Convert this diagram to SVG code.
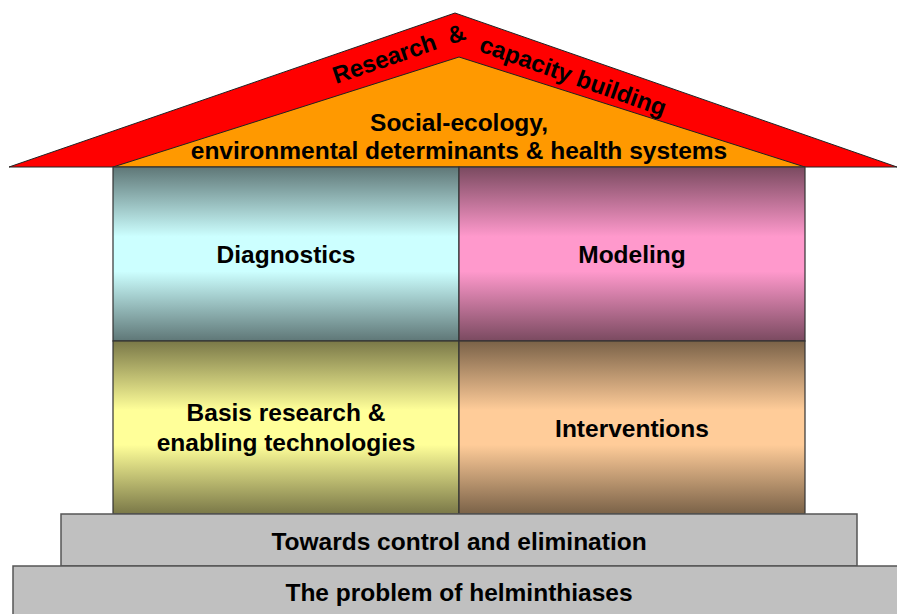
<svg xmlns="http://www.w3.org/2000/svg" width="897" height="614" viewBox="0 0 897 614">
<defs>
<linearGradient id="gDiag" x1="0" y1="0" x2="0" y2="1">
<stop offset="0" stop-color="#5f7777"/><stop offset="0.4" stop-color="#ccffff"/><stop offset="0.6" stop-color="#ccffff"/><stop offset="1" stop-color="#5f7777"/>
</linearGradient>
<linearGradient id="gMod" x1="0" y1="0" x2="0" y2="1">
<stop offset="0" stop-color="#7a4a60"/><stop offset="0.4" stop-color="#ff99cc"/><stop offset="0.6" stop-color="#ff99cc"/><stop offset="1" stop-color="#7a4a60"/>
</linearGradient>
<linearGradient id="gBasis" x1="0" y1="0" x2="0" y2="1">
<stop offset="0" stop-color="#7a7848"/><stop offset="0.4" stop-color="#ffff99"/><stop offset="0.6" stop-color="#ffff99"/><stop offset="1" stop-color="#7a7848"/>
</linearGradient>
<linearGradient id="gInt" x1="0" y1="0" x2="0" y2="1">
<stop offset="0" stop-color="#7a6248"/><stop offset="0.4" stop-color="#ffcc99"/><stop offset="0.6" stop-color="#ffcc99"/><stop offset="1" stop-color="#7a6248"/>
</linearGradient>
<style>
text{font-family:"Liberation Sans",Arial,sans-serif;font-weight:bold;font-size:24.5px;fill:#000;text-anchor:middle}
.roof{text-anchor:start;font-size:24px}
.box{stroke:#333;stroke-width:1.2}
.step{fill:#c0c0c0;stroke:#555;stroke-width:1.5}
</style>
</defs>
<g id="roof">
<polygon points="9,167 455,13 897,167" fill="#ff0000" stroke="#222" stroke-width="1"/>
<text class="roof" transform="translate(336,84) rotate(-19)" xml:space="preserve">Research  &amp;</text>
<text class="roof" transform="translate(478,51) rotate(19.5)">capacity building</text>
</g>
<g id="social">
<polygon points="113,167 459,57 805,167" fill="#ff9900" stroke="#222" stroke-width="1"/>
<text x="459" y="131">Social-ecology,</text>
<text x="459" y="159">environmental determinants &amp; health systems</text>
</g>
<g id="diagnostics">
<rect class="box" x="113" y="167" width="346" height="174" fill="url(#gDiag)"/>
<text x="286" y="263">Diagnostics</text>
</g>
<g id="modeling">
<rect class="box" x="459" y="167" width="346" height="174" fill="url(#gMod)"/>
<text x="632" y="263">Modeling</text>
</g>
<g id="basis">
<rect class="box" x="113" y="341" width="346" height="173" fill="url(#gBasis)"/>
<text x="286" y="421">Basis research &amp;</text>
<text x="286" y="451">enabling technologies</text>
</g>
<g id="interventions">
<rect class="box" x="459" y="341" width="346" height="173" fill="url(#gInt)"/>
<text x="632" y="437">Interventions</text>
</g>
<g id="control">
<rect class="step" x="61" y="514" width="796" height="52"/>
<text x="459" y="550">Towards control and elimination</text>
</g>
<g id="problem">
<rect class="step" x="13" y="566" width="890" height="52"/>
<text x="459" y="601">The problem of helminthiases</text>
</g>
<g id="connectors"/>
</svg>
